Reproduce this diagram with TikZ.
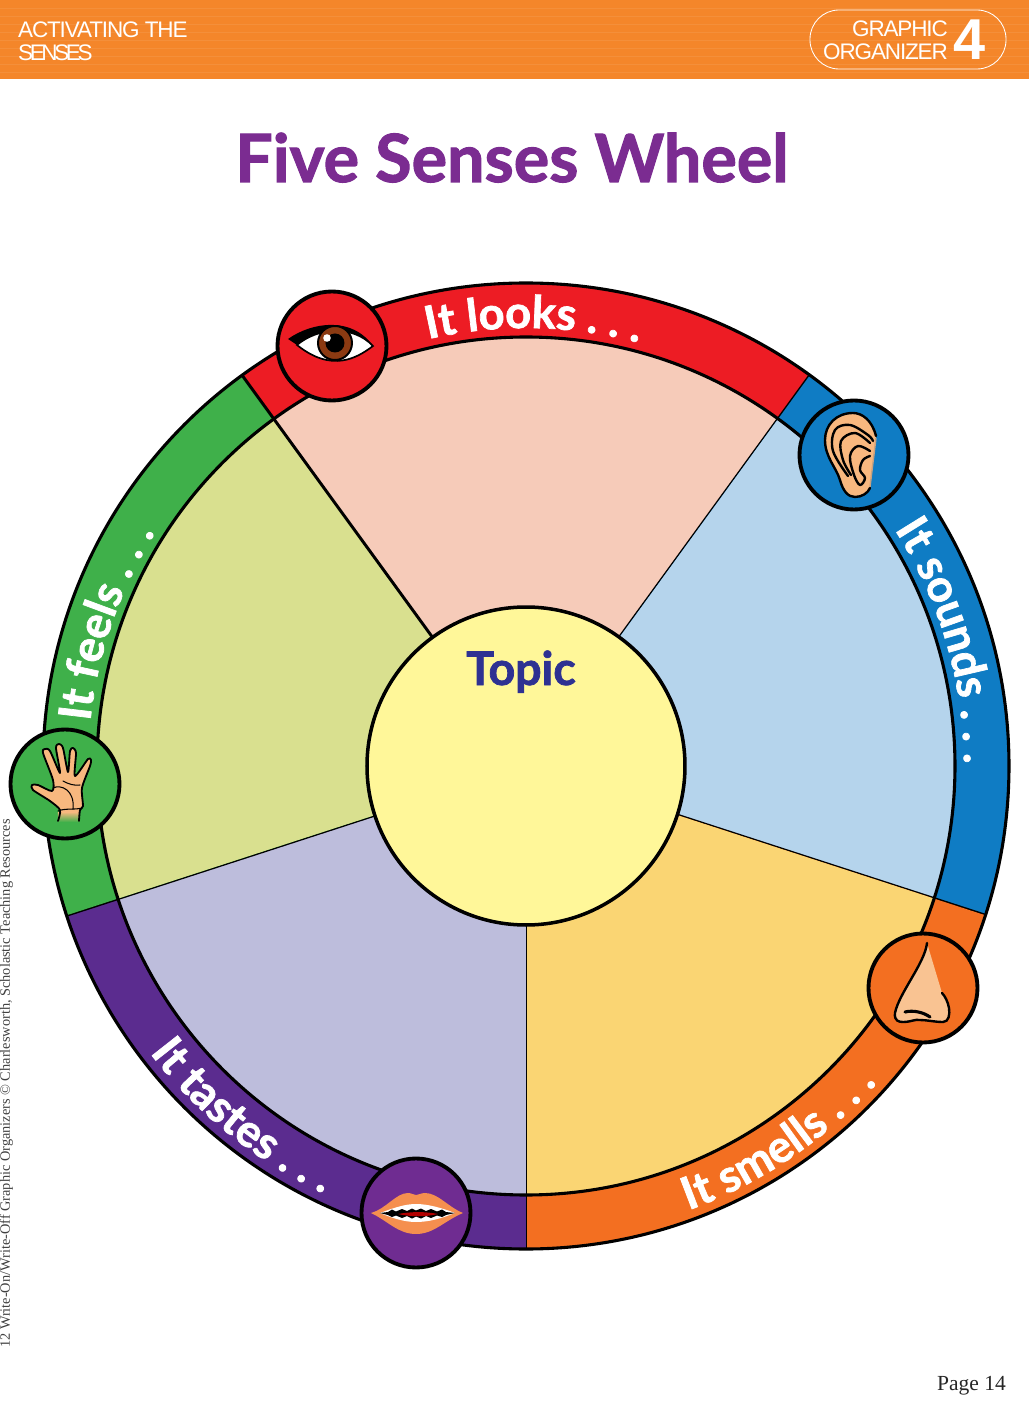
\documentclass[tikz,border=0pt]{standalone}
\usepackage{fontspec}
\usepackage{tikz}
\usetikzlibrary{decorations.text,positioning}
\setmainfont{Liberation Serif}
\newfontfamily\headface{Liberation Sans}
\newfontfamily\wheelface[BoldFeatures={FakeBold=1.6}]{Lato}
\definecolor{headorange}{HTML}{F4862A}
\definecolor{titlepurple}{HTML}{7B2C91}
\definecolor{topicblue}{HTML}{2E3192}
\definecolor{bandred}{HTML}{ED1C24}
\definecolor{bandblue}{HTML}{0F7CC4}
\definecolor{bandorange}{HTML}{F36F21}
\definecolor{bandpurple}{HTML}{5B2C8F}
\definecolor{bandgreen}{HTML}{3FB04A}
\definecolor{iconpurple}{HTML}{6F2C91}
\definecolor{wedgered}{HTML}{F6CBB9}
\definecolor{wedgeblue}{HTML}{B5D4EC}
\definecolor{wedgeorange}{HTML}{FAD573}
\definecolor{wedgepurple}{HTML}{BDBDDC}
\definecolor{wedgegreen}{HTML}{D9E08F}
\definecolor{hubyellow}{HTML}{FFF799}
\definecolor{skin}{HTML}{F8B87F}
\definecolor{lipcolor}{HTML}{F58F4F}
\definecolor{irisbrown}{HTML}{8B3A12}
\newcommand{\bandface}{\wheelface\bfseries\fontsize{64}{64}\selectfont\color{white}}
\begin{document}
\begin{tikzpicture}[
    x=0.05cm, y=0.05cm,
    headtext/.style={text=white, inner sep=0pt, font=\headface\fontsize{32}{34}\selectfont\addfontfeature{LetterSpace=-5}},
    iconring/.style={circle, draw=black, line width=5.5pt, minimum size=5.45cm, inner sep=0pt},
    iconline/.style={draw=black, line width=3.4pt, line cap=round, line join=round},
    bandtext/.style={decorate, decoration={text along path, text align=center,
      text={|\bandface|#1}}}
  ]
    \useasboundingbox (-526,-639) rectangle (503,766);
    % header
    \fill[headorange] (-526,687) rectangle (503,766);
    \foreach \y in {694,702,...,762}
      \draw[white, opacity=0.08, line width=1pt] (-526,\y) -- (503,\y);
    \node[headtext, anchor=base west] (head1) at (-508,728) {ACTIVATING THE};
    \node[headtext, anchor=base west] (head2) at (-508,705) {\addfontfeature{LetterSpace=-15}SENSES};
    \node[rectangle, draw=white, line width=1.2pt, rounded corners=1.45cm,
      minimum width=9.8cm, minimum height=2.95cm, inner sep=0pt] (badge) at (382,726.5) {};
    \node[headtext, anchor=base east] (badge1) at (422,729) {GRAPHIC};
    \node[headtext, anchor=base east] (badge2) at (422,706) {ORGANIZER};
    \node[text=white, inner sep=0pt, anchor=base west, font=\headface\bfseries\fontsize{82}{82}\selectfont]
      (badge3) at (427,706) {4};
    % title
    \node[text=titlepurple, inner sep=0pt, anchor=base, font=\wheelface\bfseries\fontsize{94.5}{94.5}\selectfont]
      (title) at (-14,584) {Five Senses Wheel};
    % wheel
    \foreach \a/\bandcol/\wedgecol in {54/bandred/wedgered, -18/bandblue/wedgeblue,
        -90/bandorange/wedgeorange, 198/bandpurple/wedgepurple, 126/bandgreen/wedgegreen} {
      \fill[\bandcol] (0,0) -- (\a:483) arc[start angle=\a, delta angle=72, radius=483] -- cycle;
      \fill[\wedgecol] (0,0) -- (\a:429) arc[start angle=\a, delta angle=72, radius=429] -- cycle;
      \draw[black, line width=4.2pt] (0,0) -- (\a:483);
    }
    \draw[black, line width=4.4pt] (0,0) circle[radius=483];
    \draw[black, line width=4.4pt] (0,0) circle[radius=429];
    \node[circle, draw=black, line width=5pt, fill=hubyellow, minimum size=15.9cm, inner sep=0pt]
      (hub) at (0,0) {};
    \node[text=topicblue, inner sep=0pt, anchor=base, font=\wheelface\bfseries\fontsize{66}{66}\selectfont]
      (topic) at (-5,81) {Topic};
    % band labels
    \path[bandtext={It looks . . .}] (129:438) arc[start angle=129, end angle=49, radius=438];
    \path[bandtext={It sounds . . .}] (56.5:438) arc[start angle=56.5, end angle=-23.5, radius=438];
    \path[bandtext={It smells . . .}] (-96:473) arc[start angle=-96, end angle=-16, radius=473];
    \path[bandtext={It tastes . . .}] (191:473) arc[start angle=191, end angle=271, radius=473];
    \path[bandtext={It feels . . .}] (201:438) arc[start angle=201, end angle=121, radius=438];
    % icons
    \node[iconring, fill=bandred] (eye) at (-194,420) {};
    \node[iconring, fill=bandblue] (ear) at (328,311) {};
    \node[iconring, fill=bandorange] (nose) at (397,-222) {};
    \node[iconring, fill=iconpurple] (mouth) at (-110,-447) {};
    \node[iconring, fill=bandgreen] (hand) at (-461,-18) {};
    \begin{scope}[shift={(eye.center)}]
      \filldraw[fill=white, draw=black, line width=2.4pt] (-35,1) .. controls (-15,18) and (20,22) .. (41,0)
        .. controls (25,-12) and (0,-27) .. (-35,1) -- cycle;
      \fill[black] (-44,7) .. controls (-20,24) and (20,30) .. (41,0)
        .. controls (20,22) and (-15,18) .. (-35,1) -- cycle;
      \filldraw[fill=irisbrown, draw=black, line width=2.8pt] (3,3) circle[radius=17];
      \fill[black] (3,3) circle[radius=9.5];
      \fill[white] (-5,8) circle[radius=3.8];
    \end{scope}
    \begin{scope}[shift={(ear.center)}]
      \fill[skin] (22,19) .. controls (18,35) and (8,42) .. (-1,42)
        .. controls (-18,42) and (-29,30) .. (-29,15)
        .. controls (-29,-2) and (-18,-12) .. (-14,-25)
        .. controls (-11,-36) and (-6,-42) .. (1,-42)
        .. controls (8,-42) and (14,-38) .. (16,-33) -- cycle;
      \draw[skin!60!gray, line width=2pt] (22,17) -- (16,-32);
      \draw[iconline] (22,19) .. controls (18,35) and (8,42) .. (-1,42)
        .. controls (-18,42) and (-29,30) .. (-29,15)
        .. controls (-29,-2) and (-18,-12) .. (-14,-25)
        .. controls (-11,-36) and (-6,-42) .. (1,-42)
        .. controls (8,-42) and (14,-38) .. (16,-33);
      \draw[iconline] plot[smooth, tension=0.6] coordinates {(-6,-21) (-21,4) (-19,25) (-4,30) (14,20) (19,14)};
      \draw[iconline] plot[smooth, tension=0.6] coordinates {(-3,-20) (-11,-5) (-13,14) (1,22) (16,12)};
      \draw[iconline] plot[smooth, tension=0.6] coordinates {(16,4) (4,9) (-4,-1) (0,-20) (6,-30) (11,-23) (6,-15) (9,-5) (16,-1)};
    \end{scope}
    \begin{scope}[shift={(nose.center)}]
      \fill[skin!85!white] (4,45) .. controls (2,25) and (-24,-5) .. (-28,-25)
        .. controls (-29,-33) and (-24,-34) .. (-20,-34)
        .. controls (-12,-34) and (-8,-31) .. (-3,-32)
        .. controls (4,-32) and (12,-34) .. (20,-34)
        .. controls (26,-34) and (27,-26) .. (26,-20)
        .. controls (25,-14) and (22,-8) .. (19,-5) -- cycle;
      \draw[iconline] (4,45) .. controls (2,25) and (-24,-5) .. (-28,-25)
        .. controls (-29,-33) and (-24,-34) .. (-20,-34)
        .. controls (-12,-34) and (-8,-31) .. (-3,-32)
        .. controls (4,-32) and (12,-34) .. (20,-34)
        .. controls (26,-34) and (27,-26) .. (26,-20)
        .. controls (25,-14) and (22,-8) .. (19,-5);
      \draw[iconline, line width=4.4pt] (-18,-24) .. controls (-10,-22) and (0,-24) .. (7,-29);
    \end{scope}
    \begin{scope}[shift={(mouth.center)}]
      \fill[lipcolor] (-45,0) .. controls (-30,4) and (-20,20) .. (-8,20)
        .. controls (-4,20) and (-3,18) .. (0,18)
        .. controls (3,18) and (5,20) .. (9,20)
        .. controls (22,20) and (32,6) .. (47,0)
        .. controls (28,-8) and (18,-21) .. (0,-21)
        .. controls (-18,-21) and (-28,-8) .. (-45,0) -- cycle;
      \fill[white] (-36,0) .. controls (-20,6) and (-10,9) .. (0,9)
        .. controls (12,9) and (26,5) .. (39,0)
        .. controls (24,-6) and (12,-9) .. (0,-9)
        .. controls (-12,-9) and (-24,-5) .. (-36,0) -- cycle;
      \fill[black] (-36,0) -- (-28,1) -- (-24,3.5) -- (-20,1.5) -- (-14,4) -- (-9,2) -- (-4,4.5) -- (0,2.5)
        -- (5,4.5) -- (10,2) -- (15,4) -- (21,1.5) -- (26,3.5) -- (30,1) -- (39,0)
        -- (30,-2) -- (26,-4) -- (21,-2.5) -- (15,-5) -- (10,-3) -- (5,-5.5) -- (0,-3.5)
        -- (-4,-5.5) -- (-9,-3) -- (-14,-5) -- (-20,-2.5) -- (-24,-4) -- (-28,-2) -- cycle;
      \fill[red!70!black] (-18,-1) .. controls (-5,1.5) and (10,1.5) .. (22,-1)
        .. controls (10,-4) and (-5,-4) .. (-18,-1) -- cycle;
    \end{scope}
    \begin{scope}[shift={(hand.center)}]
      \fill[skin] plot[smooth, tension=0.45] coordinates {(-7,-37) (-5,-26) (-15,-17) (-32,-6) (-33,-1)
        (-27,-1) (-13,-7) (-12,4) (-22,31) (-20,35) (-15,33) (-5,11) (-9,36) (-6,40) (-2,36) (3,12)
        (5,33) (8,36) (11,31) (10,8) (23,25) (26,24) (25,18) (17,-4) (18,-22) (15,-26) (14,-37)};
      \shade[top color=skin, bottom color=bandgreen] (-7,-28) rectangle (14.5,-38);
      \draw[iconline, line width=2.6pt] plot[smooth, tension=0.45] coordinates {(-7,-37) (-5,-26) (-15,-17) (-32,-6) (-33,-1)
        (-27,-1) (-13,-7) (-12,4) (-22,31) (-20,35) (-15,33) (-5,11) (-9,36) (-6,40) (-2,36) (3,12)
        (5,33) (8,36) (11,31) (10,8) (23,25) (26,24) (25,18) (17,-4) (18,-22) (15,-26) (14,-37)};
      \draw[iconline, line width=1.5pt] (-2,3) .. controls (3,0) and (10,-2) .. (15,-1);
      \draw[iconline, line width=1.5pt] (-12,-4) .. controls (-4,0) and (10,-6) .. (8,-25);
      \draw[iconline, line width=1.5pt] (-7,-27) .. controls (0,-24) and (10,-26) .. (17,-24);
    \end{scope}
    % margin text
    \node[rotate=90, anchor=base west, inner sep=0pt, text=black!75, font=\fontsize{20.4}{21}\selectfont]
      (credit) at (-516,-582) {12 Write-On/Write-Off Graphic Organizers © Charlesworth, Scholastic Teaching Resources};
    \node[anchor=base east, inner sep=0pt, text=black!85, font=\fontsize{30.6}{32}\selectfont]
      (page) at (480,-624) {Page 14};
  \end{tikzpicture}
\end{document}
